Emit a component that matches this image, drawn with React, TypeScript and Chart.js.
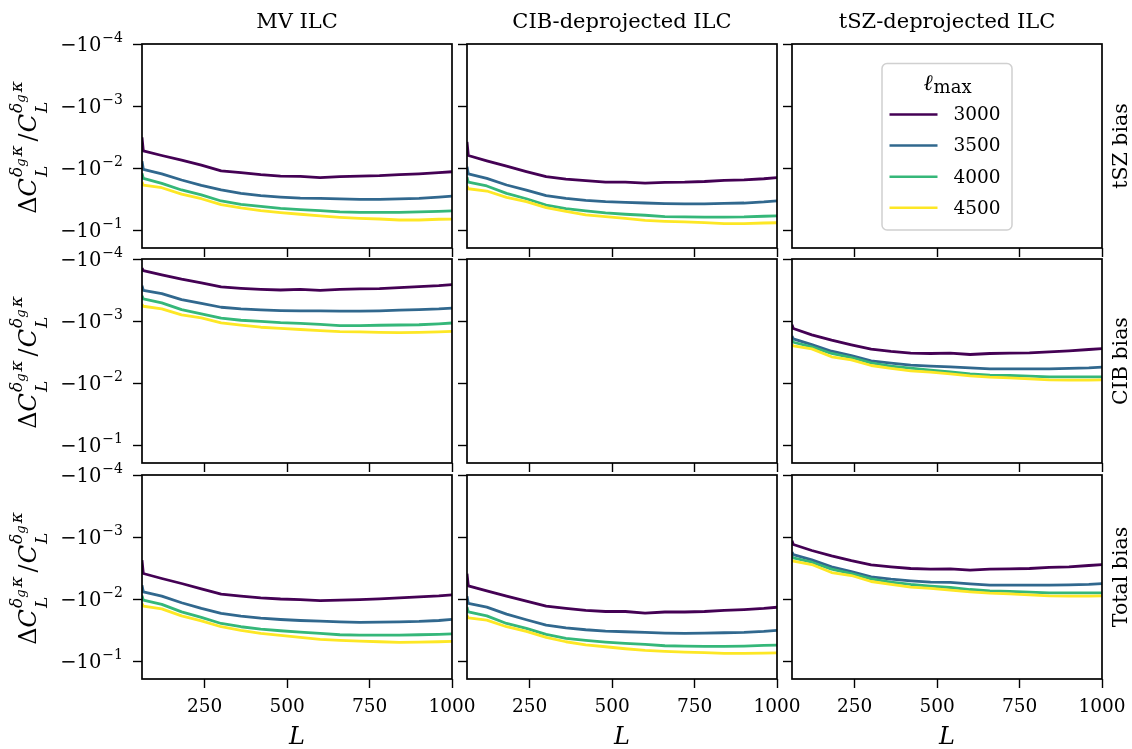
import React, { useEffect, useRef } from 'react';
import { Chart, registerables } from 'chart.js';

Chart.register(...registerables);

// ---------- data ----------
const L_BINS = [60, 64, 120, 180, 240, 300, 360, 420, 480, 540, 600, 660, 720, 780, 840, 900, 960, 1020];
const LMAX_LABELS = ['3000', '3500', '4000', '4500'];
const COLORS = ['#440154', '#31688e', '#35b779', '#fde725'];
const COLUMN_TITLES = ['MV ILC', 'CIB-deprojected ILC', 'tSZ-deprojected ILC'];
const ROW_TITLES = ['tSZ bias', 'CIB bias', 'Total bias'];
const X_TICKS = [250, 500, 750, 1000];
const Y_TICKS = [1e-4, 1e-3, 1e-2, 1e-1];
const Y_TICK_BASE = '−10';
const Y_TICK_EXPONENTS = ['−4', '−3', '−2', '−1'];

// MV ILC, tSZ bias
const MV_TSZ = [
  [-3.2e-3, -5.28e-3, -6.28e-3, -7.46e-3, -8.98e-3, -1.11e-2, -1.19e-2, -1.28e-2, -1.35e-2, -1.36e-2, -1.43e-2, -1.38e-2, -1.35e-2, -1.33e-2, -1.28e-2, -1.24e-2, -1.19e-2, -1.13e-2],
  [-7.8e-3, -1.05e-2, -1.24e-2, -1.56e-2, -1.9e-2, -2.26e-2, -2.56e-2, -2.79e-2, -2.94e-2, -3.05e-2, -3.09e-2, -3.15e-2, -3.2e-2, -3.2e-2, -3.15e-2, -3.09e-2, -2.94e-2, -2.79e-2],
  [-1.22e-2, -1.47e-2, -1.77e-2, -2.26e-2, -2.72e-2, -3.4e-2, -3.85e-2, -4.15e-2, -4.47e-2, -4.69e-2, -4.87e-2, -5.11e-2, -5.18e-2, -5.18e-2, -5.18e-2, -5.11e-2, -4.99e-2, -4.87e-2],
  [-1.68e-2, -1.88e-2, -2.08e-2, -2.63e-2, -3.13e-2, -3.9e-2, -4.41e-2, -4.87e-2, -5.25e-2, -5.57e-2, -5.93e-2, -6.23e-2, -6.47e-2, -6.64e-2, -6.89e-2, -6.89e-2, -6.71e-2, -6.64e-2],
];
// CIB-deprojected ILC, tSZ bias
const CIBD_TSZ = [
  [-3.8e-3, -6.28e-3, -7.65e-3, -9.33e-3, -1.14e-2, -1.38e-2, -1.51e-2, -1.6e-2, -1.69e-2, -1.69e-2, -1.75e-2, -1.7e-2, -1.69e-2, -1.65e-2, -1.58e-2, -1.55e-2, -1.49e-2, -1.4e-2],
  [-9.5e-3, -1.24e-2, -1.47e-2, -1.88e-2, -2.27e-2, -2.79e-2, -3.08e-2, -3.32e-2, -3.49e-2, -3.58e-2, -3.67e-2, -3.76e-2, -3.8e-2, -3.8e-2, -3.72e-2, -3.67e-2, -3.53e-2, -3.32e-2],
  [-1.4e-2, -1.69e-2, -1.95e-2, -2.56e-2, -3.13e-2, -3.95e-2, -4.52e-2, -4.93e-2, -5.31e-2, -5.57e-2, -5.78e-2, -6.08e-2, -6.15e-2, -6.2e-2, -6.2e-2, -6.15e-2, -6.0e-2, -5.9e-2],
  [-1.95e-2, -2.16e-2, -2.35e-2, -2.97e-2, -3.49e-2, -4.36e-2, -4.99e-2, -5.71e-2, -6.08e-2, -6.47e-2, -6.97e-2, -7.23e-2, -7.41e-2, -7.6e-2, -7.87e-2, -7.87e-2, -7.7e-2, -7.6e-2],
];
// MV ILC, CIB bias
const MV_CIB = [
  [-1.4e-4, -1.54e-4, -1.81e-4, -2.12e-4, -2.43e-4, -2.82e-4, -2.97e-4, -3.08e-4, -3.16e-4, -3.1e-4, -3.2e-4, -3.1e-4, -3.04e-4, -3.0e-4, -2.9e-4, -2.79e-4, -2.69e-4, -2.53e-4],
  [-2.7e-4, -3.2e-4, -3.62e-4, -4.52e-4, -5.18e-4, -6.0e-4, -6.38e-4, -6.62e-4, -6.79e-4, -6.87e-4, -6.87e-4, -6.95e-4, -6.95e-4, -6.87e-4, -6.7e-4, -6.54e-4, -6.38e-4, -6.08e-4],
  [-3.9e-4, -4.41e-4, -5.11e-4, -6.55e-4, -7.69e-4, -9.02e-4, -9.72e-4, -1.01e-3, -1.06e-3, -1.09e-3, -1.13e-3, -1.19e-3, -1.19e-3, -1.17e-3, -1.16e-3, -1.15e-3, -1.11e-3, -1.06e-3],
  [-5.4e-4, -5.78e-4, -6.38e-4, -7.97e-4, -8.92e-4, -1.07e-3, -1.17e-3, -1.26e-3, -1.31e-3, -1.37e-3, -1.43e-3, -1.48e-3, -1.5e-3, -1.52e-3, -1.54e-3, -1.52e-3, -1.5e-3, -1.46e-3],
];
// tSZ-deprojected ILC, CIB bias
const TSZD_CIB = [
  [-1.15e-3, -1.32e-3, -1.67e-3, -2.04e-3, -2.43e-3, -2.85e-3, -3.1e-3, -3.3e-3, -3.34e-3, -3.3e-3, -3.47e-3, -3.34e-3, -3.3e-3, -3.27e-3, -3.15e-3, -3.03e-3, -2.88e-3, -2.74e-3],
  [-1.75e-3, -1.94e-3, -2.4e-3, -3.07e-3, -3.6e-3, -4.4e-3, -4.79e-3, -5.16e-3, -5.35e-3, -5.48e-3, -5.69e-3, -5.9e-3, -5.9e-3, -5.9e-3, -5.9e-3, -5.8e-3, -5.69e-3, -5.48e-3],
  [-2.05e-3, -2.2e-3, -2.61e-3, -3.34e-3, -3.88e-3, -4.73e-3, -5.35e-3, -5.76e-3, -6.21e-3, -6.61e-3, -7.12e-3, -7.47e-3, -7.56e-3, -7.76e-3, -7.95e-3, -7.95e-3, -7.95e-3, -7.95e-3],
  [-2.4e-3, -2.52e-3, -2.81e-3, -3.78e-3, -4.23e-3, -5.22e-3, -5.83e-3, -6.36e-3, -6.69e-3, -7.11e-3, -7.66e-3, -8.05e-3, -8.25e-3, -8.56e-3, -8.88e-3, -9.0e-3, -9.0e-3, -8.9e-3],
];
// MV ILC, total bias
const MV_TOT = [
  [-2.37e-3, -3.88e-3, -4.67e-3, -5.62e-3, -6.85e-3, -8.35e-3, -9.0e-3, -9.57e-3, -1.0e-2, -1.02e-2, -1.06e-2, -1.04e-2, -1.02e-2, -9.93e-3, -9.57e-3, -9.22e-3, -8.88e-3, -8.4e-3],
  [-6.0e-3, -7.66e-3, -9.0e-3, -1.15e-2, -1.42e-2, -1.71e-2, -1.89e-2, -2.03e-2, -2.14e-2, -2.22e-2, -2.27e-2, -2.33e-2, -2.39e-2, -2.36e-2, -2.33e-2, -2.3e-2, -2.22e-2, -2.08e-2],
  [-8.8e-3, -1.04e-2, -1.22e-2, -1.61e-2, -1.98e-2, -2.48e-2, -2.8e-2, -3.06e-2, -3.25e-2, -3.42e-2, -3.59e-2, -3.77e-2, -3.82e-2, -3.82e-2, -3.82e-2, -3.77e-2, -3.72e-2, -3.62e-2],
  [-1.18e-2, -1.3e-2, -1.44e-2, -1.87e-2, -2.25e-2, -2.8e-2, -3.21e-2, -3.59e-2, -3.87e-2, -4.16e-2, -4.48e-2, -4.66e-2, -4.78e-2, -4.89e-2, -5.01e-2, -4.95e-2, -4.89e-2, -4.78e-2],
];
// CIB-deprojected ILC, total bias
const CIBD_TOT = [
  [-3.9e-3, -6.12e-3, -7.38e-3, -9.0e-3, -1.08e-2, -1.3e-2, -1.42e-2, -1.53e-2, -1.59e-2, -1.59e-2, -1.69e-2, -1.62e-2, -1.62e-2, -1.59e-2, -1.53e-2, -1.48e-2, -1.42e-2, -1.33e-2],
  [-9.0e-3, -1.18e-2, -1.35e-2, -1.75e-2, -2.16e-2, -2.64e-2, -2.91e-2, -3.13e-2, -3.29e-2, -3.37e-2, -3.46e-2, -3.55e-2, -3.59e-2, -3.55e-2, -3.5e-2, -3.46e-2, -3.33e-2, -3.13e-2],
  [-1.35e-2, -1.61e-2, -1.87e-2, -2.48e-2, -2.98e-2, -3.73e-2, -4.32e-2, -4.66e-2, -4.95e-2, -5.2e-2, -5.4e-2, -5.67e-2, -5.74e-2, -5.8e-2, -5.8e-2, -5.74e-2, -5.6e-2, -5.5e-2],
  [-1.85e-2, -2.01e-2, -2.19e-2, -2.8e-2, -3.33e-2, -4.16e-2, -4.89e-2, -5.47e-2, -5.89e-2, -6.34e-2, -6.74e-2, -7.0e-2, -7.18e-2, -7.35e-2, -7.53e-2, -7.53e-2, -7.45e-2, -7.35e-2],
];
// tSZ-deprojected ILC, total bias
const TSZD_TOT = [
  [-1.15e-3, -1.32e-3, -1.65e-3, -2.01e-3, -2.4e-3, -2.81e-3, -3.03e-3, -3.22e-3, -3.3e-3, -3.26e-3, -3.43e-3, -3.3e-3, -3.26e-3, -3.22e-3, -3.1e-3, -3.03e-3, -2.88e-3, -2.74e-3],
  [-1.75e-3, -1.92e-3, -2.34e-3, -3.03e-3, -3.6e-3, -4.4e-3, -4.79e-3, -5.09e-3, -5.35e-3, -5.4e-3, -5.69e-3, -5.98e-3, -5.98e-3, -5.98e-3, -5.98e-3, -5.9e-3, -5.8e-3, -5.55e-3],
  [-2.05e-3, -2.17e-3, -2.55e-3, -3.3e-3, -3.88e-3, -4.73e-3, -5.35e-3, -5.83e-3, -6.21e-3, -6.52e-3, -7.03e-3, -7.38e-3, -7.55e-3, -7.75e-3, -7.95e-3, -7.95e-3, -7.95e-3, -7.95e-3],
  [-2.35e-3, -2.46e-3, -2.78e-3, -3.74e-3, -4.18e-3, -5.22e-3, -5.83e-3, -6.44e-3, -6.76e-3, -7.19e-3, -7.66e-3, -8.05e-3, -8.25e-3, -8.56e-3, -8.88e-3, -8.98e-3, -8.98e-3, -8.9e-3],
];
const NO_DATA: number[][] = [];

const PANEL_SERIES = [
  [MV_TSZ, CIBD_TSZ, NO_DATA],
  [MV_CIB, NO_DATA, TSZD_CIB],
  [MV_TOT, CIBD_TOT, TSZD_TOT],
];

// ---------- layout ----------
const COL_LEFT = [142, 467, 792];
const ROW_TOP = [44, 259, 475];
const PLOT_W = 310;
const PLOT_H = 204;
const Y_AXIS_W = 140;
const X_AXIS_H = 60;
const PAD_T = 20;
const PAD_R = 45;
const FONT = '"DejaVu Serif", serif';

const framePlugin = {
  id: 'frame',
  afterDraw(chart: any) {
    const { ctx, chartArea: a } = chart;
    ctx.save();
    ctx.strokeStyle = '#000';
    ctx.lineWidth = 1.7;
    ctx.strokeRect(a.left, a.top, a.right - a.left, a.bottom - a.top);
    ctx.restore();
  },
};

// y tick labels of the form −10^k, placed through the y scale
const yLabelPlugin = {
  id: 'yPowerLabels',
  afterDraw(chart: any) {
    const { ctx, chartArea: a } = chart;
    const ys = chart.scales.y;
    ctx.save();
    ctx.fillStyle = '#000';
    ctx.textBaseline = 'alphabetic';
    Y_TICKS.forEach((t, i) => {
      const y = ys.getPixelForValue(t);
      const right = a.left - 19;
      ctx.font = `14px ${FONT}`;
      const ew = ctx.measureText(Y_TICK_EXPONENTS[i]).width;
      ctx.font = `19.5px ${FONT}`;
      const bw = ctx.measureText(Y_TICK_BASE).width;
      const x0 = right - ew - bw - 1;
      ctx.fillText(Y_TICK_BASE, x0, y + 7);
      ctx.font = `14px ${FONT}`;
      ctx.fillText(Y_TICK_EXPONENTS[i], x0 + bw + 1, y - 2.5);
    });
    ctx.restore();
  },
};

const legendPlugin = {
  id: 'lmaxLegend',
  afterDraw(chart: any) {
    const { ctx, chartArea: a } = chart;
    const bx = a.left + 90, by = a.top + 19.5, bw = 130, bh = 166.5;
    ctx.save();
    ctx.beginPath();
    ctx.roundRect(bx, by, bw, bh, 5);
    ctx.fillStyle = 'rgba(255,255,255,0.8)';
    ctx.fill();
    ctx.strokeStyle = '#d0d0d0';
    ctx.lineWidth = 1.5;
    ctx.stroke();
    ctx.fillStyle = '#000';
    ctx.textBaseline = 'alphabetic';
    ctx.font = `italic 22px ${FONT}`;
    const lw = ctx.measureText('ℓ').width;
    ctx.font = `18px ${FONT}`;
    const mw = ctx.measureText('max').width;
    const tx = bx + bw / 2 - (lw + mw) / 2;
    ctx.font = `italic 22px ${FONT}`;
    ctx.fillText('ℓ', tx, by + 26);
    ctx.font = `18px ${FONT}`;
    ctx.fillText('max', tx + lw + 1, by + 29);
    chart.data.datasets.forEach((ds: any, i: number) => {
      const y = by + 51 + i * 31.1;
      ctx.strokeStyle = ds.borderColor;
      ctx.lineWidth = 2.5;
      ctx.beginPath();
      ctx.moveTo(bx + 7.5, y);
      ctx.lineTo(bx + 55.5, y);
      ctx.stroke();
      ctx.fillStyle = '#000';
      ctx.font = `18.5px ${FONT}`;
      ctx.textBaseline = 'middle';
      ctx.fillText(ds.label, bx + 71.5, y + 1);
    });
    ctx.restore();
  },
};

function Panel({ row, col }: { row: number; col: number }) {
  const ref = useRef<HTMLCanvasElement>(null);
  const w = Y_AXIS_W + PLOT_W + PAD_R;
  const h = PAD_T + PLOT_H + X_AXIS_H;
  useEffect(() => {
    const series = PANEL_SERIES[row][col];
    const datasets = LMAX_LABELS.map((lab, i) => ({
      label: lab,
      data: series[i] ? L_BINS.map((L, k) => ({ x: L, y: Math.abs(series[i][k]) })) : [],
      borderColor: COLORS[i],
      backgroundColor: COLORS[i],
      borderWidth: 2.8,
      pointRadius: 0,
      tension: 0,
      fill: false,
      order: 3 - i,
      borderJoinStyle: 'round',
      clip: 0,
    }));
    const tickFont = { family: FONT, size: 18.5 };
    const plugins: any[] = [framePlugin];
    if (col === 0) plugins.push(yLabelPlugin);
    if (row === 0 && col === 2) plugins.push(legendPlugin);
    const chart = new Chart(ref.current as HTMLCanvasElement, {
      type: 'line',
      data: { datasets } as any,
      options: {
        animation: false,
        responsive: false,
        devicePixelRatio: 1,
        layout: { padding: { top: PAD_T, right: PAD_R, left: 0, bottom: 0 } },
        plugins: { legend: { display: false }, tooltip: { enabled: false } },
        scales: {
          x: {
            type: 'linear',
            min: 60,
            max: 1000,
            afterFit: (s: any) => { s.height = X_AXIS_H; },
            afterBuildTicks: (s: any) => { s.ticks = X_TICKS.map((v) => ({ value: v })); },
            ticks: {
              callback: (v: any) => (row === 2 ? String(v) : ''),
              font: tickFont,
              color: '#000',
              padding: 8,
              autoSkip: false,
              maxRotation: 0,
            },
            grid: { display: true, drawOnChartArea: false, drawTicks: true, tickLength: 9, tickWidth: 1.4, tickColor: '#000' },
            border: { display: false },
          },
          y: {
            type: 'logarithmic',
            reverse: true,
            min: 1e-4,
            max: 0.195,
            afterFit: (s: any) => { s.width = Y_AXIS_W; },
            afterBuildTicks: (s: any) => { s.ticks = Y_TICKS.map((v) => ({ value: v })); },
            ticks: { callback: () => '', autoSkip: false },
            grid: { display: true, drawOnChartArea: false, drawTicks: true, tickLength: 9, tickWidth: 1.4, tickColor: '#000' },
            border: { display: false },
          },
        },
      } as any,
      plugins,
    });
    return () => chart.destroy();
  }, [row, col]);
  return (
    <canvas
      ref={ref}
      width={w}
      height={h}
      style={{ position: 'absolute', left: COL_LEFT[col] - Y_AXIS_W, top: ROW_TOP[row] - PAD_T, width: w, height: h }}
    />
  );
}

function TextAt({ cx, cy, rotate, size, italic, children }: any) {
  return (
    <div
      style={{
        position: 'absolute',
        left: cx,
        top: cy,
        transform: `translate(-50%, -50%)${rotate ? ' rotate(-90deg)' : ''}`,
        whiteSpace: 'nowrap',
        fontFamily: FONT,
        fontSize: size,
        lineHeight: 1,
        fontStyle: italic ? 'italic' : 'normal',
        color: '#000',
      }}
    >
      {children}
    </div>
  );
}

function SupSub() {
  return (
    <span
      style={{
        display: 'inline-flex',
        flexDirection: 'column',
        verticalAlign: '14px',
        fontSize: 17,
        lineHeight: '21px',
        fontStyle: 'italic',
        marginLeft: 1,
        marginRight: 3,
      }}
    >
      <span>
        δ<span style={{ fontSize: 13, verticalAlign: '-3px' }}>g</span>
        <span style={{ marginLeft: 2 }}>κ</span>
      </span>
      <span>L</span>
    </span>
  );
}

function YLabel({ cy }: { cy: number }) {
  return (
    <TextAt cx={29} cy={cy} rotate size={24}>
      <span>Δ</span>
      <span style={{ fontStyle: 'italic' }}>C</span>
      <SupSub />
      <span style={{ margin: '0 1px' }}>/</span>
      <span style={{ fontStyle: 'italic' }}>C</span>
      <SupSub />
    </TextAt>
  );
}

export default function App() {
  const panels: any[] = [];
  for (let r = 0; r < 3; r++) for (let c = 0; c < 3; c++) panels.push(<Panel key={`${r}-${c}`} row={r} col={c} />);
  return (
    <div style={{ position: 'absolute', left: 0, top: 0, width: 1132, height: 749, background: '#fff', overflow: 'hidden' }}>
      {panels}
      {COLUMN_TITLES.map((t, c) => (
        <TextAt key={t} cx={COL_LEFT[c] + PLOT_W / 2} cy={20.5} size={21}>{t}</TextAt>
      ))}
      {ROW_TITLES.map((t, r) => (
        <TextAt key={t} cx={1120} cy={ROW_TOP[r] + PLOT_H / 2} rotate size={20.5}>{t}</TextAt>
      ))}
      {ROW_TOP.map((top, r) => (
        <YLabel key={r} cy={top + PLOT_H / 2} />
      ))}
      {COL_LEFT.map((left, c) => (
        <TextAt key={c} cx={left + PLOT_W / 2} cy={736} size={24} italic>L</TextAt>
      ))}
    </div>
  );
}
